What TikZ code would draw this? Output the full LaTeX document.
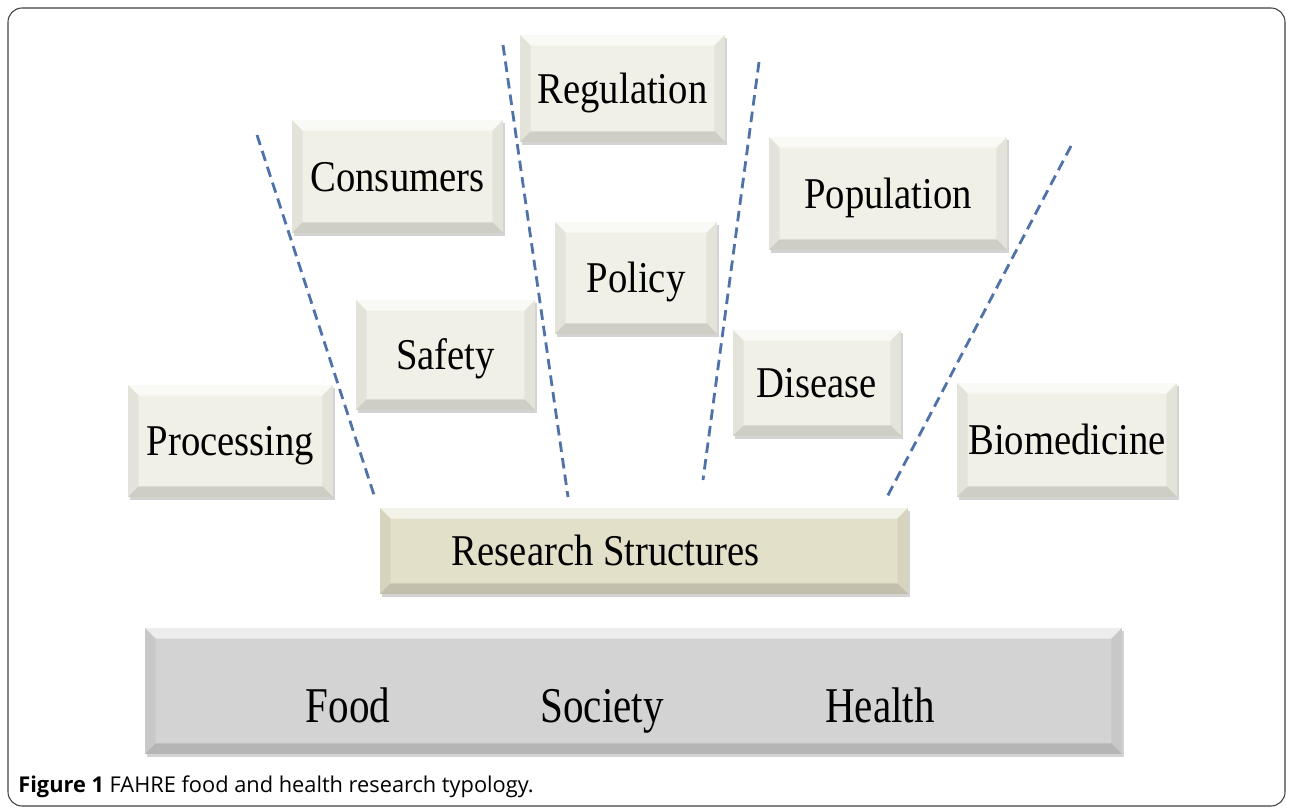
\documentclass[tikz,border=0pt]{standalone}
\usepackage{fontspec}
\setmainfont{Liberation Serif}
\newfontfamily\boxfont[FakeStretch=0.88]{Liberation Serif}
\newfontfamily\groundfont[FakeStretch=0.82]{Liberation Serif}
\newfontfamily\capfont{Open Sans}
\usetikzlibrary{shadows}

\definecolor{boxfill}{HTML}{F1F0E6}
\definecolor{basefill}{HTML}{E3E0C9}
\definecolor{groundfill}{HTML}{D3D3D3}
\definecolor{dashblue}{HTML}{4F72A8}

\tikzset{
    bevel/.style={path picture={
        \coordinate (bnw) at (path picture bounding box.north west);
        \coordinate (bne) at (path picture bounding box.north east);
        \coordinate (bsw) at (path picture bounding box.south west);
        \coordinate (bse) at (path picture bounding box.south east);
        \fill[white, opacity=.6] (bnw) -- (bne) -- ([shift={(-6pt,-6pt)}]bne) -- ([shift={(6pt,-6pt)}]bnw) -- cycle;
        \fill[black, opacity=.14] (bsw) -- (bse) -- ([shift={(-6pt,6pt)}]bse) -- ([shift={(6pt,6pt)}]bsw) -- cycle;
        \fill[black, opacity=.05] (bnw) -- (bsw) -- ([shift={(6pt,6pt)}]bsw) -- ([shift={(6pt,-6pt)}]bnw) -- cycle;
        \fill[black, opacity=.05] (bne) -- (bse) -- ([shift={(-6pt,6pt)}]bse) -- ([shift={(-6pt,-6pt)}]bne) -- cycle;
    }},
    box/.style={fill=boxfill, inner sep=0pt, bevel,
        drop shadow={shadow xshift=1.2pt, shadow yshift=-1.5pt, opacity=.35},
        text height=17pt, text depth=0pt,
        font=\boxfont\fontsize{25}{30}\selectfont},
    basebox/.style={box, fill=basefill},
    groundbox/.style={box, fill=groundfill},
    word/.style={inner sep=0pt, anchor=base, font=\groundfont\fontsize{28.5}{34}\selectfont},
    divider/.style={dashblue, line width=1.6pt, dash pattern=on 6pt off 3.5pt}
}

\begin{document}
\begin{tikzpicture}[x=0.02cm, y=-0.02cm]
    \useasboundingbox (0,0) rectangle (1290,810);
    \draw[black!75, line width=0.6pt, rounded corners=8pt] (8,8) rectangle (1285,806);

    % upper boxes
    \node[box, minimum width=4.10cm, minimum height=2.14cm] (regulation) at (622.5,88.5) {Regulation};
    \node[box, minimum width=4.22cm, minimum height=2.26cm] (consumers) at (397.5,176.5) {Consumers};
    \node[box, minimum width=4.76cm, minimum height=2.26cm] (population) at (888,193.5) {Population};
    \node[box, minimum width=3.24cm, minimum height=2.24cm] (policy) at (636,278) {Policy};
    \node[box, minimum width=3.58cm, minimum height=2.20cm] (safety) at (445.5,355) {Safety};
    \node[box, minimum width=3.36cm, minimum height=2.12cm] (disease) at (817,383) {Disease};
    \node[box, minimum width=4.10cm, minimum height=2.24cm] (processing) at (230.5,441) {Processing};
    \node[box, minimum width=4.40cm, minimum height=2.28cm] (biomedicine) at (1067,440) {Biomedicine};

    % base
    \node[basebox, minimum width=10.56cm, minimum height=1.72cm] (research) at (644,551) {};
    \node[inner sep=0pt, text height=17pt, text depth=0pt, font=\boxfont\fontsize{25}{30}\selectfont]
        (researchlabel) at (606,551) {Research Structures};
    \node[groundbox, minimum width=19.54cm, minimum height=2.52cm] (ground) at (633.5,691) {};
    \node[word] (food) at (348,722) {Food};
    \node[word] (society) at (602,722) {Society};
    \node[word] (health) at (880,722) {Health};

    % dividers
    \coordinate (d1a) at (257,135);  \coordinate (d1b) at (375,498);
    \coordinate (d2a) at (503,45);   \coordinate (d2b) at (568,497);
    \coordinate (d3a) at (759,62);   \coordinate (d3b) at (703,480);
    \coordinate (d4a) at (1071,146); \coordinate (d4b) at (887,497);
    \draw[divider] (d1a) -- (d1b);
    \draw[divider] (d2a) -- (d2b);
    \draw[divider] (d3a) -- (d3b);
    \draw[divider] (d4a) -- (d4b);

    \node[anchor=base west, inner sep=0pt, font=\capfont\fontsize{12.4}{15}\selectfont] (caption) at (18,792)
        {\textbf{Figure 1} FAHRE food and health research typology.};
\end{tikzpicture}
\end{document}
